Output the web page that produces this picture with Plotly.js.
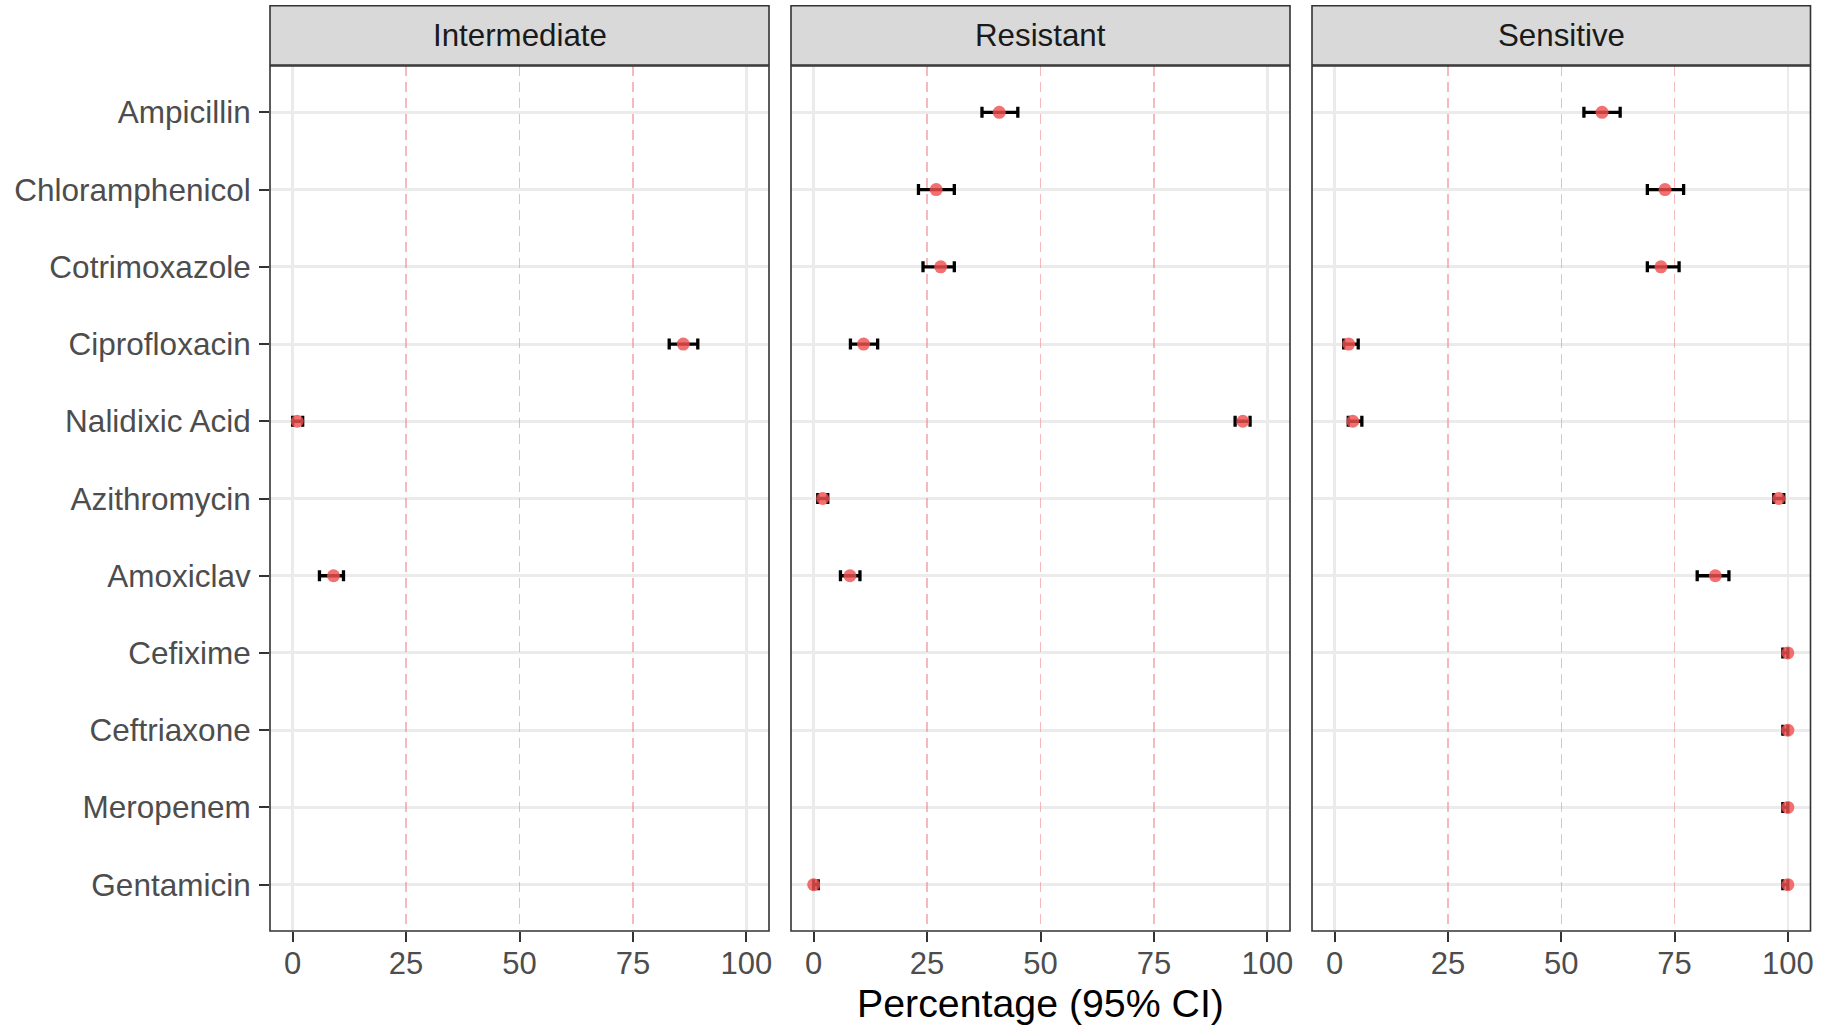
<!DOCTYPE html>
<html>
<head>
<meta charset="utf-8">
<script src="https://cdn.plot.ly/plotly-3.0.1.min.js"></script>
<style>
  html, body { margin: 0; padding: 0; background: #ffffff; }
  #chart { width: 1822px; height: 1028px; }
</style>
</head>
<body>
<div id="chart"></div>
<script>
// ---------------- data ----------------
const categories = ['Ampicillin', 'Chloramphenicol', 'Cotrimoxazole', 'Ciprofloxacin', 'Nalidixic Acid',
  'Azithromycin', 'Amoxiclav', 'Cefixime', 'Ceftriaxone', 'Meropenem', 'Gentamicin'];
const panelNames = ['Intermediate', 'Resistant', 'Sensitive'];

const intermediatePct = [null, null, null, 86.1, 1.0, null, 9.0, null, null, null, null];
const intermediateLo  = [null, null, null, 83.0, 0.0, null, 5.9, null, null, null, null];
const intermediateHi  = [null, null, null, 89.3, 2.2, null, 11.2, null, null, null, null];

const resistantPct = [40.9, 27.0, 28.0, 11.0, 94.6, 2.0, 8.0, null, null, null, 0.0];
const resistantLo  = [37.1, 23.1, 24.1, 8.1, 92.9, 0.9, 5.9, null, null, null, 0.0];
const resistantHi  = [45.0, 31.0, 31.0, 14.1, 96.2, 3.1, 10.2, null, null, null, 1.0];

const sensitivePct = [59.0, 72.9, 72.0, 3.1, 4.0, 98.0, 84.0, 100, 100, 100, 100];
const sensitiveLo  = [55.0, 69.0, 69.0, 2.0, 3.0, 96.9, 80.0, 98.9, 98.9, 98.9, 98.9];
const sensitiveHi  = [63.0, 77.0, 76.0, 5.2, 6.0, 99.1, 87.0, 100, 100, 100, 100];

const xTicks = [0, 25, 50, 75, 100];
const refLines = [25, 50, 75];
const edgeGrid = [0, 100];

// ---------------- build ----------------
const W = 1822, H = 1028;
const panelPx = [[270, 769], [791, 1290], [1312, 1810.5]];
const plotTop = 66, plotBottom = 931;
const stripTop = 5.8, stripBottom = 65;

const series = [
  [intermediatePct, intermediateLo, intermediateHi],
  [resistantPct, resistantLo, resistantHi],
  [sensitivePct, sensitiveLo, sensitiveHi]
];

const FONT = 'Liberation Sans, Arial, Helvetica, sans-serif';
const traces = [];
const shapes = [];
const annotations = [];
const layout = {
  width: W, height: H,
  margin: {l: 0, r: 0, t: 0, b: 0},
  paper_bgcolor: '#ffffff',
  plot_bgcolor: '#ffffff',
  showlegend: false,
  font: {family: FONT, color: '#4D4D4D'}
};

series.forEach((s, i) => {
  const [pct, lo, hi] = s;
  const xs = [], ys = [], plus = [], minus = [];
  categories.forEach((c, k) => {
    if (pct[k] === null) return;
    xs.push(pct[k]); ys.push(c);
    plus.push(hi[k] - pct[k]); minus.push(pct[k] - lo[k]);
  });
  const sfx = i === 0 ? '' : String(i + 1);
  const ovl = String(i + 4); // overlay axis carrying the grid + dashed reference lines
  traces.push({
    type: 'scatter', mode: 'markers',
    x: xs, y: ys,
    xaxis: 'x' + sfx, yaxis: 'y' + sfx,
    marker: {size: 13, color: 'rgba(240,80,80,0.82)', line: {width: 0}},
    error_x: {type: 'data', symmetric: false, array: plus, arrayminus: minus,
      color: '#000000', thickness: 3.3, width: 5.5},
    hoverinfo: 'x+y'
  });

  const px = panelPx[i];
  const dom = [px[0] / W, px[1] / W];
  layout['xaxis' + sfx] = {
    domain: dom,
    anchor: 'y' + sfx,
    range: [-5, 105],
    tickmode: 'array', tickvals: xTicks, ticktext: xTicks.map(String),
    showgrid: false,
    zeroline: false, showline: false,
    ticks: 'outside', ticklen: 10, tickwidth: 2, tickcolor: '#333333',
    tickfont: {family: FONT, size: 31, color: '#4D4D4D'},
    ticklabelstandoff: -5,
    fixedrange: true
  };
  // overlay axis: dashed reference lines (major grid) + light grid at 0/100 (minor grid)
  layout['xaxis' + ovl] = {
    domain: dom,
    overlaying: 'x' + sfx,
    anchor: 'y' + sfx,
    range: [-5, 105],
    tickmode: 'array', tickvals: refLines,
    showticklabels: false, ticks: '',
    showgrid: true, gridcolor: 'rgba(238,140,140,0.6)', gridwidth: 1.5, griddash: '10px,6px',
    minor: {tickmode: 'array', tickvals: edgeGrid, ticks: '', showgrid: true,
      gridcolor: '#EBEBEB', gridwidth: 2.6, griddash: 'solid'},
    zeroline: false, showline: false,
    fixedrange: true
  };
  // invisible dummy trace so the overlay axis is rendered
  traces.push({
    type: 'scatter', mode: 'markers', x: [refLines[0]], y: [categories[0]],
    xaxis: 'x' + ovl, yaxis: 'y' + sfx,
    marker: {size: 1, opacity: 0}, hoverinfo: 'skip'
  });

  const yax = {
    domain: [1 - plotBottom / H, 1 - plotTop / H],
    anchor: 'x' + sfx,
    type: 'category',
    categoryorder: 'array', categoryarray: categories,
    range: [categories.length - 0.4, -0.6],
    showgrid: true, gridcolor: '#EBEBEB', gridwidth: 3,
    zeroline: false, showline: false,
    fixedrange: true
  };
  if (i === 0) {
    Object.assign(yax, {
      ticks: 'outside', ticklen: 10, tickwidth: 2, tickcolor: '#333333',
      tickfont: {family: FONT, size: 31.5, color: '#4D4D4D'},
      ticklabelstandoff: 2
    });
  } else {
    Object.assign(yax, {matches: 'y', showticklabels: false, ticks: ''});
  }
  layout['yaxis' + sfx] = yax;

  // panel border
  shapes.push({
    type: 'rect', layer: 'above',
    xref: 'paper', yref: 'paper',
    x0: dom[0], x1: dom[1], y0: 1 - plotBottom / H, y1: 1 - plotTop / H,
    line: {color: '#333333', width: 1.6}, fillcolor: 'rgba(0,0,0,0)'
  });
  // strip
  shapes.push({
    type: 'rect', layer: 'above',
    xref: 'paper', yref: 'paper',
    x0: dom[0], x1: dom[1], y0: 1 - stripBottom / H, y1: 1 - stripTop / H,
    line: {color: '#333333', width: 1.6}, fillcolor: '#D9D9D9'
  });
  annotations.push({
    xref: 'paper', yref: 'paper',
    x: (px[0] + px[1]) / 2 / W, y: 1 - (stripTop + stripBottom) / 2 / H,
    xanchor: 'center', yanchor: 'middle',
    text: panelNames[i], showarrow: false,
    font: {family: FONT, size: 31.3, color: '#1A1A1A'}
  });
});

annotations.push({
  xref: 'paper', yref: 'paper',
  x: (panelPx[1][0] + panelPx[1][1]) / 2 / W, y: 1 - 1003 / H,
  xanchor: 'center', yanchor: 'middle',
  text: 'Percentage (95% CI)', showarrow: false,
  font: {family: FONT, size: 39.3, color: '#000000'}
});

layout.shapes = shapes;
layout.annotations = annotations;

Plotly.newPlot('chart', traces, layout, {displayModeBar: false, staticPlot: true});
</script>
</body>
</html>
